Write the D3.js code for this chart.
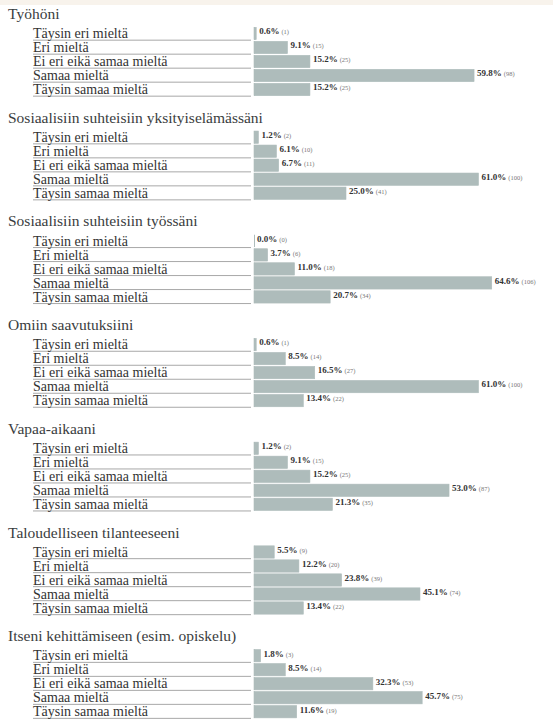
<!DOCTYPE html>
<html>
<head>
<meta charset="utf-8">
<script src="https://cdn.jsdelivr.net/npm/d3@7"></script>
<style>
  html, body { margin: 0; padding: 0; background: #fff; }
  svg { display: block; }
</style>
</head>
<body>
<svg id="chart" width="553" height="727"></svg>
<script>
// Answer categories (same for every question)
const categories = ["Täysin eri mieltä", "Eri mieltä", "Ei eri eikä samaa mieltä", "Samaa mieltä", "Täysin samaa mieltä"];

// Question titles
const questions = [
  "Työhöni",
  "Sosiaalisiin suhteisiin yksityiselämässäni",
  "Sosiaalisiin suhteisiin työssäni",
  "Omiin saavutuksiini",
  "Vapaa-aikaani",
  "Taloudelliseen tilanteeseeni",
  "Itseni kehittämiseen (esim. opiskelu)"
];

// Shares (%) per question, in category order
const percents = [
  [0.6, 9.1, 15.2, 59.8, 15.2],
  [1.2, 6.1, 6.7, 61.0, 25.0],
  [0.0, 3.7, 11.0, 64.6, 20.7],
  [0.6, 8.5, 16.5, 61.0, 13.4],
  [1.2, 9.1, 15.2, 53.0, 21.3],
  [5.5, 12.2, 23.8, 45.1, 13.4],
  [1.8, 8.5, 32.3, 45.7, 11.6]
];

// Respondent counts per question, in category order
const counts = [
  [1, 15, 25, 98, 25],
  [2, 10, 11, 100, 41],
  [0, 6, 18, 106, 34],
  [1, 14, 27, 100, 22],
  [2, 15, 25, 87, 35],
  [9, 20, 39, 74, 22],
  [3, 14, 53, 75, 19]
];

const svg = d3.select("#chart");
const serif = "'Liberation Serif', 'DejaVu Serif', serif";

// light strip along the top edge
svg.append("rect").attr("x", 0).attr("y", 0).attr("width", 553).attr("height", 5).attr("fill", "#f8f3ec");

const groupStep = 103.7;
const x = d3.scaleLinear().domain([0, 100]).range([254, 254 + 368]);
const y = d3.scaleBand().domain(categories).range([26.5, 96.5]).paddingInner(0.12).paddingOuter(0.06);

const groups = svg.selectAll("g.q")
  .data(questions.map((q, i) => ({ title: q, rows: categories.map((c, j) => ({ cat: c, pct: percents[i][j], n: counts[i][j] })) })))
  .join("g")
  .attr("class", "q")
  .attr("transform", (d, i) => `translate(0,${i * groupStep})`);

groups.append("text")
  .attr("x", 8).attr("y", 19)
  .attr("font-family", serif).attr("font-size", 15.5)
  .attr("fill", "#3a3d40")
  .text(d => d.title);

const rows = groups.selectAll("g.row")
  .data(d => d.rows)
  .join("g")
  .attr("class", "row");

// underline rule beneath each category label
rows.append("line")
  .attr("x1", 33).attr("x2", 251)
  .attr("y1", d => y(d.cat) + y.bandwidth() + 0.5)
  .attr("y2", d => y(d.cat) + y.bandwidth() + 0.5)
  .attr("stroke", "#a8a8a8").attr("stroke-width", 1);

rows.append("text")
  .attr("x", 33)
  .attr("y", d => y(d.cat) + y.bandwidth() - 1.5)
  .attr("font-family", serif).attr("font-size", 14)
  .attr("fill", "#333")
  .text(d => d.cat);

// thin zero line at the start of each bar (visible when the share is 0)
rows.append("line")
  .attr("x1", x(0) + 0.5).attr("x2", x(0) + 0.5)
  .attr("y1", d => y(d.cat))
  .attr("y2", d => y(d.cat) + y.bandwidth())
  .attr("stroke", "#aebcbb").attr("stroke-width", 1);

rows.append("rect")
  .attr("x", x(0))
  .attr("y", d => y(d.cat))
  .attr("width", d => x(d.pct) - x(0))
  .attr("height", y.bandwidth())
  .attr("fill", "#aebcbb")
  .attr("stroke", "#aebcbb").attr("stroke-width", 0.6);

const vl = rows.append("text")
  .attr("x", d => x(d.pct) + 3)
  .attr("y", d => y(d.cat) + 7)
  .attr("font-family", serif);

vl.append("tspan")
  .attr("font-size", 9).attr("font-weight", "bold").attr("fill", "#333")
  .text(d => d3.format(".1f")(d.pct) + "%");

vl.append("tspan")
  .attr("dx", 2)
  .attr("font-size", 6.5).attr("fill", "#777")
  .text(d => `(${d.n})`);
</script>
</body>
</html>
